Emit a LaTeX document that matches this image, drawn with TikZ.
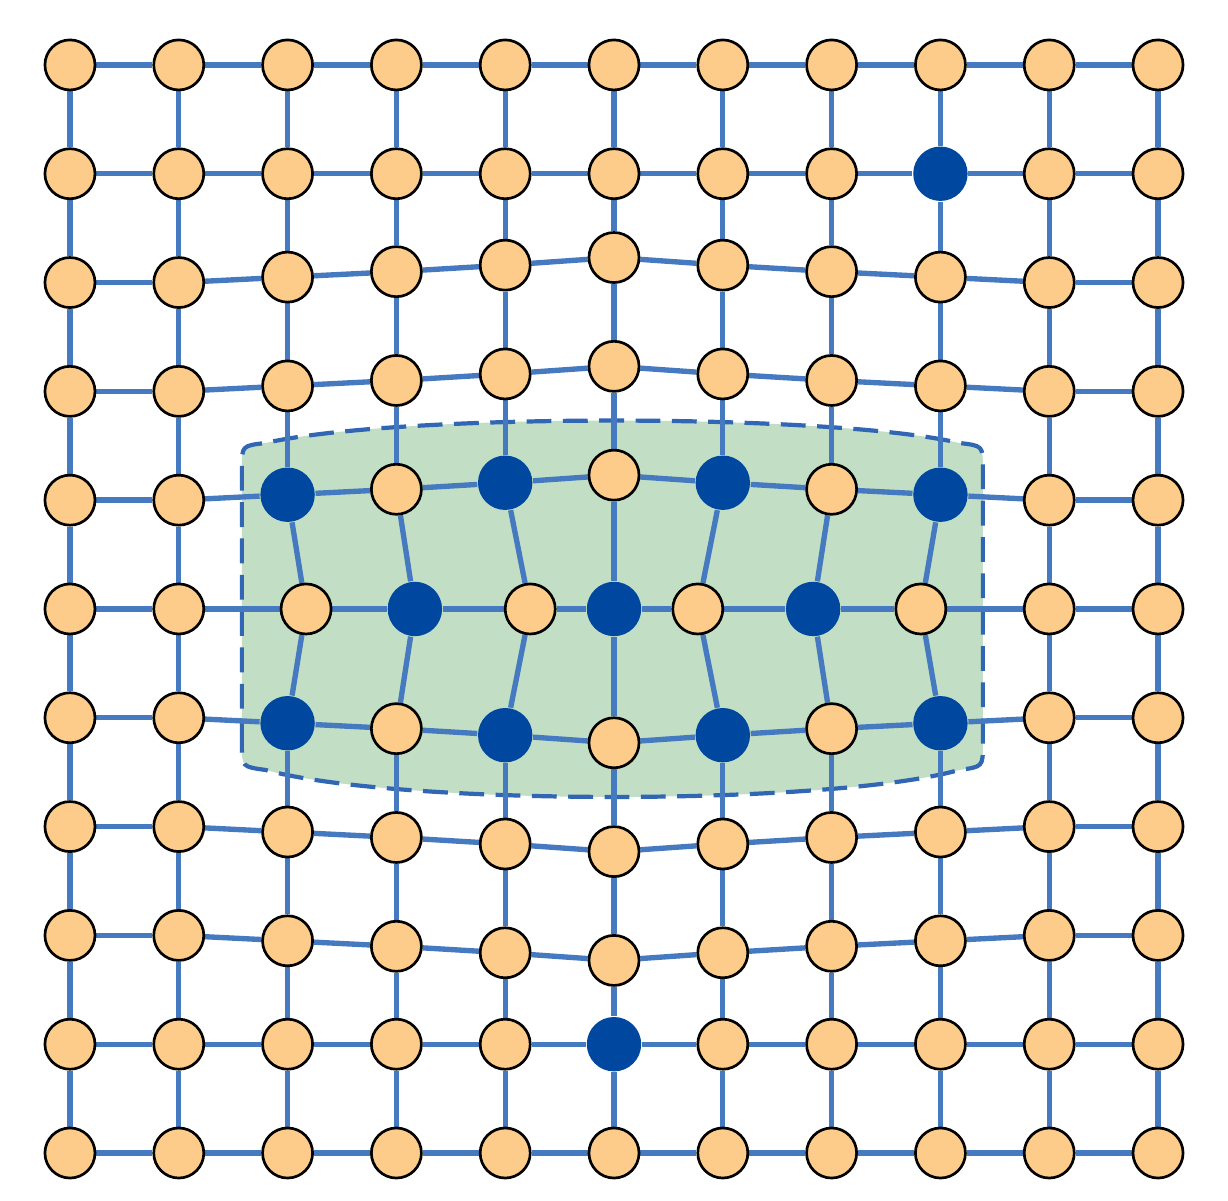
\documentclass[tikz,border=0pt]{standalone}
\definecolor{bondblue}{RGB}{70,122,192}
\definecolor{siteorange}{RGB}{253,204,138}
\definecolor{flipblue}{RGB}{0,71,160}
\definecolor{regiongreen}{RGB}{194,223,198}
\definecolor{regionline}{RGB}{48,102,180}

\pgfdeclarelayer{regionlayer}
\pgfdeclarelayer{bondlayer}
\pgfsetlayers{regionlayer,bondlayer,main}

\tikzset{
  site/.style={circle, draw=black, line width=0.7pt, fill=siteorange, minimum size=0.46cm, inner sep=0pt},
  flipped/.style={circle, fill=flipblue, minimum size=0.5cm, inner sep=0pt},
  bond/.style={draw=bondblue, line width=1.4pt},
  region/.style={fill=regiongreen, draw=regionline, line width=1.1pt, dash pattern=on 6.5pt off 3pt}
}

\begin{document}
\begin{tikzpicture}
      \useasboundingbox (-0.643,-0.432) rectangle (10.643,10.597);
      % rows bend away from the region, the middle row is squeezed
      \def\bulge{{0,0,0.05,0.10,0.16,0.23,0.16,0.10,0.05,0,0}}
      \def\squeeze{{0,0,0.17,0.17,0.23,0,-0.23,-0.17,-0.18,0,0}}

      \foreach \i in {0,...,10} {
        \foreach \j in {0,...,10} {
          \pgfmathsetmacro{\dy}{\bulge[\i]*(\j>=2)*(\j<=4) - \bulge[\i]*(\j>=6)*(\j<=8)}
          \pgfmathsetmacro{\dx}{\squeeze[\i]*(\j==5)}
          \pgfmathtruncatemacro{\isflip}{(\i>=2)*(\i<=8)*(\j>=4)*(\j<=6)*(1-mod(\i+\j,2)) + (\i==8)*(\j==1) + (\i==5)*(\j==9)}
          \ifnum\isflip=1 \def\kind{flipped}\else \def\kind{site}\fi
          \node[\kind] (s-\i-\j) at (\i+\dx, 10-\j+\dy) {};
        }
      }

      \begin{pgfonlayer}{bondlayer}
        \foreach \i in {0,...,10} {
          \foreach \j [evaluate=\j as \jn using int(\j+1)] in {0,...,9} {
            \draw[bond] (s-\i-\j) -- (s-\i-\jn);
            \draw[bond] (s-\j-\i) -- (s-\jn-\i);
          }
        }
      \end{pgfonlayer}

      \begin{pgfonlayer}{regionlayer}
        \draw[region] (1.58,3.75) -- (1.58,6.30) .. controls (1.58,6.50) .. (1.80,6.526)
          .. controls (3,6.8) and (7,6.8) .. (8.17,6.526) .. controls (8.39,6.50) .. (8.39,6.30)
          -- (8.39,3.75) .. controls (8.39,3.55) .. (8.17,3.52)
          .. controls (7,3.19) and (3,3.19) .. (1.80,3.52) .. controls (1.58,3.55) .. (1.58,3.75) -- cycle;
      \end{pgfonlayer}
    \end{tikzpicture}
\end{document}
